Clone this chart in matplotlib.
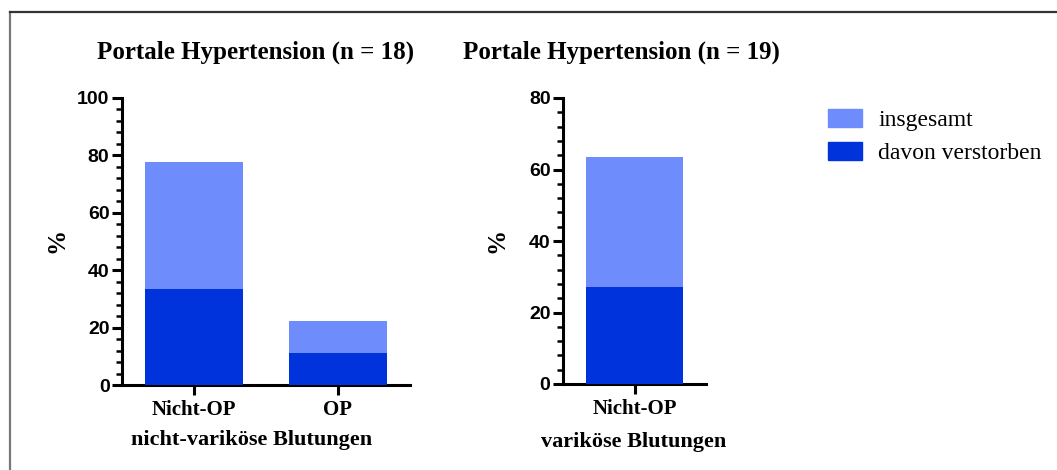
import matplotlib
matplotlib.use("Agg")
import matplotlib.pyplot as plt
from matplotlib.lines import Line2D
from matplotlib.patches import Patch
from matplotlib.ticker import MultipleLocator

# data (percent)
left_cats = ["Nicht-OP", "OP"]
left_total = [77.8, 22.2]
left_died = [33.3, 11.1]

right_cats = ["Nicht-OP"]
right_total = [63.5, ]
right_died = [27.0, ]

titles = ["Portale Hypertension (n = 18)", "Portale Hypertension (n = 19)"]
group_labels = ["nicht-variköse Blutungen", "variköse Blutungen"]
legend_labels = ["insgesamt", "davon verstorben"]

light = "#6e8cfb"
dark = "#0033dc"
serif = "Liberation Serif"
sans = "Liberation Sans"

fig = plt.figure(figsize=(10.57, 4.70), dpi=100)
W, H = 1057, 470


def panel(rect, cats, total, died, ymax):
    ax = fig.add_axes(rect)
    x = range(len(cats))
    ax.bar(x, total, width=0.68, color=light, zorder=2)
    ax.bar(x, died, width=0.68, color=dark, zorder=3)
    ax.set_xlim(-0.5, len(cats) - 0.5)
    ax.set_ylim(0, ymax)
    ax.yaxis.set_major_locator(MultipleLocator(20))
    ax.yaxis.set_minor_locator(MultipleLocator(4))
    ax.set_xticks(list(x))
    ax.set_xticklabels(cats, fontfamily=serif, fontweight="bold", fontsize=15)
    for lab in ax.get_yticklabels():
        lab.set_fontfamily(sans)
        lab.set_fontweight("bold")
        lab.set_fontsize(14)
    for s in ["top", "right"]:
        ax.spines[s].set_visible(False)
    for s in ["left", "bottom"]:
        ax.spines[s].set_linewidth(2.2)
    ax.tick_params(axis="y", which="major", length=7, width=2.2, pad=2)
    ax.tick_params(axis="y", which="minor", length=4, width=1.8)
    ax.tick_params(axis="x", length=7, width=2.2, pad=4)
    return ax


ax1 = panel([122 / W, 1 - 385 / H, 288 / W, 287 / H],
            left_cats, left_total, left_died, 100)
ax2 = panel([563 / W, 1 - 384 / H, 143 / W, 286 / H],
            right_cats, right_total, right_died, 80)

# titles
fig.text(256 / W, 1 - 52 / H, titles[0], ha="center", va="center",
         fontfamily=serif, fontweight="bold", fontsize=18)
fig.text(621 / W, 1 - 52 / H, titles[1], ha="center", va="center",
         fontfamily=serif, fontweight="bold", fontsize=18)

# y labels
fig.text(57 / W, 1 - 240 / H, "%", rotation=90, ha="center", va="center",
         fontfamily=serif, fontweight="bold", fontsize=18)
fig.text(497 / W, 1 - 240 / H, "%", rotation=90, ha="center", va="center",
         fontfamily=serif, fontweight="bold", fontsize=18)

# group labels
fig.text(252 / W, 1 - 440 / H, group_labels[0], ha="center", va="center",
         fontfamily=serif, fontweight="bold", fontsize=16)
fig.text(634 / W, 1 - 442 / H, group_labels[1], ha="center", va="center",
         fontfamily=serif, fontweight="bold", fontsize=16)

# legend
handles = [Patch(color=light), Patch(color=dark)]
fig.legend(handles, legend_labels, loc="upper left",
           bbox_to_anchor=(828 / W, 1 - 109 / H), frameon=False,
           borderaxespad=0, borderpad=0,
           handlelength=1.45, handleheight=0.82, handletextpad=0.68,
           labelspacing=0.45, prop={"family": serif, "size": 17})

# frame lines of the original picture
fig.add_artist(Line2D([10 / W, 10 / W], [0, 1 - 12 / H], color="#777777",
                      lw=1.6, transform=fig.transFigure))
fig.add_artist(Line2D([10 / W, 1], [1 - 12 / H, 1 - 12 / H], color="#333333",
                      lw=1.6, transform=fig.transFigure))

fig.savefig("out.png", dpi=100)
